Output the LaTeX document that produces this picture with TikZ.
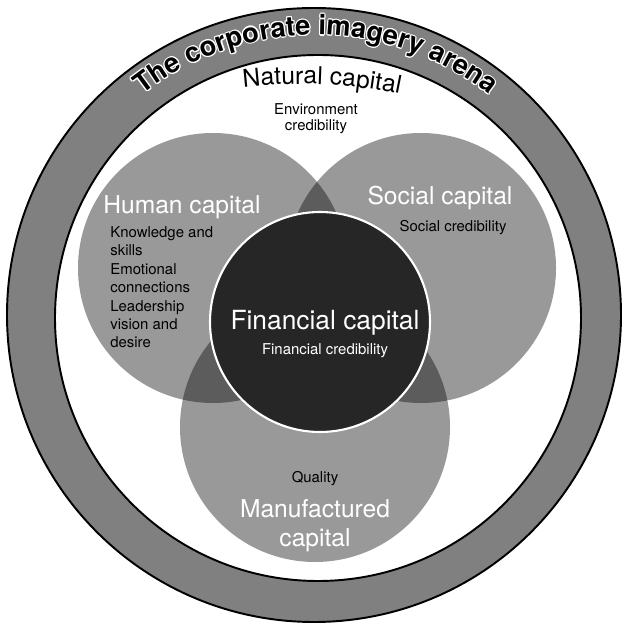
\documentclass[tikz,border=0pt]{standalone}
\usepackage{fontspec}
\setmainfont{TeX Gyre Heros}
\usetikzlibrary{decorations.text}
\newcommand{\arenafont}{\bfseries\fontsize{15.5}{17}\selectfont}
\newcommand{\capfont}{\fontsize{14}{17}\selectfont}
\newcommand{\notefont}{\fontsize{8.5}{10.5}\selectfont}
\tikzset{
  ringfill/.style = {fill=black!50, even odd rule},
  rim/.style      = {draw=black, line width=1.1pt},
  capfill/.style  = {fill=black, fill opacity=0.4},
  core/.style     = {fill=black!85, draw=white, line width=1.2pt},
  capname/.style  = {text=white, inner sep=0pt, font=\capfont},
  note/.style     = {text=black, inner sep=0pt, font=\notefont, align=left},
}

\begin{document}
\begin{tikzpicture}[x=0.02cm, y=0.02cm]
\useasboundingbox (0,0) rectangle (622,628);

% the arena: a shaded ring
\coordinate (arena) at (314,313);
\coordinate (field) at (318,310);
\fill[ringfill] (arena) circle (307) (field) circle (263);
\draw[rim] (arena) circle (307);
\draw[rim] (field) circle (263);

% three overlapping capitals and the financial core
\coordinate (human) at (213,360);
\coordinate (social) at (421,360);
\coordinate (made) at (315,201);
\coordinate (money) at (320,306);
\fill[capfill] (human) circle (135);
\fill[capfill] (social) circle (135);
\fill[capfill] (made) circle (135);
\filldraw[core] (money) circle (110);

% title on the ring, white halo under black letters
\foreach \a in {0,30,...,330}
  \path[shift={(\a:1.1)}, decorate, decoration={text along path, text align=center,
      text color=white, text={|\arenafont|The corporate imagery arena}}]
    (316,312) ++(150:281) arc[start angle=150, end angle=30, radius=281];
\path[decorate, decoration={text along path, text align=center,
    text color=black, text={|\arenafont|The corporate imagery arena}}]
  (316,312) ++(150:281) arc[start angle=150, end angle=30, radius=281];

% natural capital, slightly bent
\path[decorate, decoration={text along path, text align=center,
    text={|\capfont|Natural capital}}]
  (300,44) ++(105:500) arc[start angle=105, end angle=70, radius=500];
% (base of a multi-line node sits on its last line)
\node[note, align=center, font=\fontsize{8.5}{9.6}\selectfont, anchor=base] (nnote) at (316,497)
  {Environment\\credibility};

% human
\node[capname, anchor=base west] (hname) at (103,414) {Human capital};
\node[note, anchor=base west] (hnote) at (110,280)
  {Knowledge and\\skills\\Emotional\\connections\\Leadership\\vision and\\desire};

% social
\node[capname, anchor=base] (sname) at (440,423) {Social capital};
\node[note, anchor=base] (snote) at (453,396) {Social credibility};

% financial
\node[capname, font=\fontsize{15}{17}\selectfont, anchor=base] (fname) at (325,298) {Financial capital};
\node[note, text=white, anchor=base] (fnote) at (325,273) {Financial credibility};

% manufactured
\node[note, anchor=base] (mnote) at (315,145) {Quality};
\node[capname, align=center, anchor=base] (mname) at (315,81) {Manufactured\\capital};
\end{tikzpicture}
\end{document}
